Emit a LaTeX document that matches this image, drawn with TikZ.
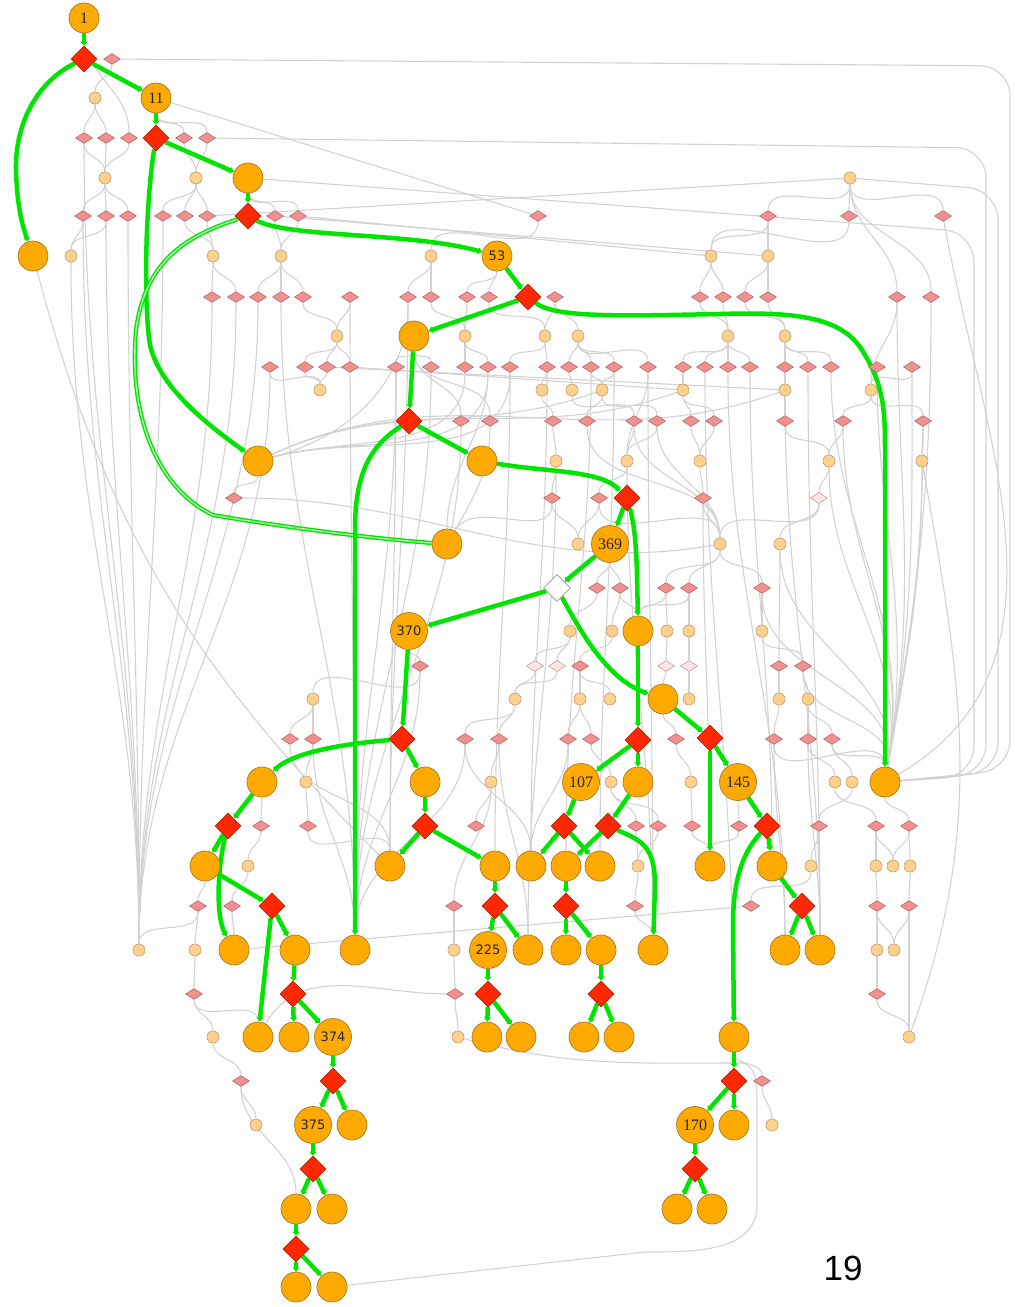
\documentclass[tikz,border=0pt]{standalone}
\usepackage{fontspec}
\setmainfont{Liberation Serif}
\newfontfamily\labsans{DejaVu Sans}
\newfontfamily\pagesans{Liberation Sans}
\usetikzlibrary{shapes.geometric,arrows.meta,backgrounds}
\pgfdeclarelayer{greyL}
\pgfdeclarelayer{greenL}
\pgfsetlayers{greyL,greenL,main}
\definecolor{nodeorange}{HTML}{FFAA00}
\definecolor{nodeedge}{HTML}{A8782A}
\definecolor{palefill}{HTML}{FFD08C}
\definecolor{paleedge}{HTML}{C49A6C}
\definecolor{firered}{HTML}{FF2800}
\definecolor{fireedge}{HTML}{B02A10}
\definecolor{rosefill}{HTML}{F29090}
\definecolor{roseedge}{HTML}{B46A6A}
\definecolor{blush}{HTML}{F9E6E6}
\definecolor{pathgreen}{HTML}{00E400}
\definecolor{wirecol}{HTML}{D2D2D2}
\tikzset{
  big/.style={circle, draw=nodeedge, fill=nodeorange, line width=0.7pt, minimum size=30pt, inner sep=0pt},
  bigl/.style={big, minimum size=37pt},
  serl/.style={font=\fontsize{16}{16}\selectfont, text=black!85},
  sanl/.style={font=\labsans\fontsize{13}{13}\selectfont, text=black!85},
  leaf/.style={circle, draw=paleedge, fill=palefill, line width=0.6pt, minimum size=12pt, inner sep=0pt},
  hub/.style={diamond, draw=fireedge, fill=firered, line width=0.6pt, minimum width=26pt, minimum height=26pt, inner sep=0pt},
  rose/.style={diamond, draw=roseedge, fill=rosefill, line width=0.6pt, minimum width=17pt, minimum height=11pt, inner sep=0pt},
  pale rose/.style={rose, fill=blush, draw=roseedge!70},
  blank/.style={diamond, draw=gray!80, fill=white, line width=0.7pt, minimum width=27pt, minimum height=27pt, inner sep=0pt},
  wire/.style={draw=wirecol, line width=1.1pt},
  trail/.style={draw=pathgreen, line width=4.5pt, -{Latex[length=4pt,width=8pt]}},
  trail2/.style={draw=pathgreen, line width=1.4pt, double=pathgreen!30, double distance=1.4pt},
}
\begin{document}
\begin{tikzpicture}[x=1pt, y=1pt]
  \useasboundingbox (0,0) rectangle (1015,-1307);
  % labelled nodes
  \node[big,serl] (v1) at (84,-18) {1};
  \node[big,serl] (v11) at (156,-98) {11};
  \node[big,sanl] (v53) at (497,-256) {53};
  \node[bigl,serl] (v369) at (610,-544) {369};
  \node[bigl,sanl] (v370) at (409,-631) {370};
  \node[bigl,serl] (v107) at (581,-782) {107};
  \node[bigl,serl] (v145) at (738,-782) {145};
  \node[bigl,sanl] (v225) at (488,-950) {225};
  \node[bigl,sanl] (v374) at (333,-1037) {374};
  \node[bigl,sanl] (v375) at (313,-1125) {375};
  \node[bigl,serl] (v170) at (695,-1125) {170};
  % plain big circles
  \foreach \x/\y in {33/256, 248/178, 414/336, 258/461, 482/461, 447/544, 638/631, 663/699,
      262/782, 425/782, 638/782, 710/866, 885/782, 355/950, 205/866, 234/950, 295/950,
      258/1037, 294/1037, 352/1125, 296/1209, 332/1209, 296/1287, 332/1287, 390/866,
      495/866, 528/950, 487/1037, 521/1037, 531/866, 600/866, 566/866, 653/950, 566/950,
      601/950, 584/1037, 619/1037, 772/866, 734/1037, 785/950, 820/950, 734/1125,
      677/1209, 712/1209}
    \node[big] (u\x-\y) at (\x,-\y) {};
  % red diamonds
  \foreach \x/\y in {84/59, 156/138, 248/216, 528/297, 409/421, 627/498, 638/740, 710/738,
      402/739, 228/826, 272/906, 293/994, 333/1081, 313/1169, 296/1249, 425/826, 495/906,
      488/994, 564/826, 608/826, 566/906, 601/994, 767/826, 802/906, 734/1081, 695/1169}
    \node[hub] (d\x-\y) at (\x,-\y) {};
  \node[blank] (w557-588) at (557,-588) {};
  % small diamonds
  \foreach \x/\y in {112/59, 84/138, 106/138, 129/138, 184/138, 207/138, 83/216, 106/216,
      128/216, 163/216, 185/216, 207/216, 275/216, 298/216, 538/216, 768/216, 849/216,
      943/216, 212/297, 236/297, 258/297, 281/297, 303/297, 350/297, 408/297, 431/297,
      467/297, 489/297, 555/297, 700/297, 723/297, 745/297, 768/297, 897/297, 931/297,
      270/367, 305/367, 327/367, 350/367, 396/367, 431/367, 465/367, 488/367, 510/367,
      547/367, 569/367, 591/367, 614/367, 648/367, 683/367, 705/367, 728/367, 750/367,
      785/367, 808/367, 831/367, 877/367, 912/367, 461/421, 490/421, 553/421, 587/421,
      634/421, 657/421, 691/421, 714/421, 785/421, 843/421, 923/421, 234/498, 552/498,
      599/498, 703/498, 597/588, 620/588, 666/588, 689/588, 762/588, 420/666, 580/666,
      779/666, 803/666, 290/739, 313/739, 465/739, 499/739, 568/739, 591/739, 676/739,
      774/739, 808/739, 832/739, 261/826, 308/826, 476/826, 636/826, 658/826, 692/826,
      739/826, 819/826, 876/826, 909/826, 198/906, 232/906, 454/906, 635/906, 751/906,
      877/906, 909/906, 194/994, 455/994, 877/994, 241/1081, 762/1081}
    \node[rose] (p\x-\y) at (\x,-\y) {};
  \foreach \x/\y in {819/498, 535/666, 557/666, 666/666, 689/666}
    \node[pale rose] (p\x-\y) at (\x,-\y) {};
  % small circles
  \foreach \x/\y in {95/98, 105/178, 196/178, 850/178, 71/256, 213/256, 281/256, 431/256,
      711/256, 768/256, 337/336, 465/336, 545/336, 578/336, 728/336, 785/336, 320/390,
      542/390, 572/390, 602/390, 683/390, 785/390, 871/390, 556/461, 627/461, 700/461,
      829/461, 922/461, 578/544, 720/544, 780/544, 570/631, 612/631, 667/631, 689/631,
      762/631, 313/699, 515/699, 580/699, 610/699, 689/699, 779/699, 808/699, 306/782,
      491/782, 611/782, 691/782, 835/782, 852/782, 248/866, 638/866, 811/866, 876/866,
      893/866, 910/866, 139/950, 195/950, 454/950, 877/950, 894/950, 213/1037, 458/1037,
      909/1037, 256/1125, 772/1125}
    \node[leaf] (o\x-\y) at (\x,-\y) {};
  \node[font=\pagesans\fontsize{35}{35}\selectfont] (pageno) at (843,-1268) {19};

  \begin{pgfonlayer}{greyL}
    % local links
    \foreach \a/\b in {v1/p129-138, p112-59/o95-98, o95-98/p84-138, o95-98/p106-138,
        p84-138/o105-178, p106-138/o105-178, p129-138/o105-178, v11/p184-138, v11/p207-138,
        p184-138/o196-178, p207-138/o196-178, o105-178/p83-216, o105-178/p106-216,
        o105-178/p128-216, o196-178/p163-216, o196-178/p185-216, o196-178/p207-216,
        u248-178/p275-216, u248-178/p298-216, p83-216/o71-256, p106-216/o71-256,
        p185-216/o213-256, p207-216/o213-256, p275-216/o281-256, p298-216/o281-256,
        o213-256/p212-297, o213-256/p236-297, o281-256/p258-297, o281-256/p281-297,
        o281-256/p303-297, o431-256/p408-297, o431-256/p431-297, v53/p467-297, v53/p489-297,
        o711-256/p700-297, o711-256/p723-297, o768-256/p745-297, o768-256/p768-297,
        p768-216/o768-256, p768-216/o711-256, p849-216/o711-256, o850-178/p768-216,
        o850-178/p849-216, o850-178/p943-216, p538-216/o431-256, o850-178/p897-297,
        o850-178/p931-297, p350-297/o337-336, p303-297/o337-336, p431-297/o465-336,
        p467-297/o465-336, p489-297/o545-336, p555-297/o545-336, p555-297/o578-336,
        p700-297/o728-336, p723-297/o728-336, p745-297/o785-336, p768-297/o785-336,
        u414-336/p396-367, u414-336/p431-367, u414-336/p461-421, u414-336/p490-421,
        o337-336/p305-367, o337-336/p327-367, o337-336/p350-367, o465-336/p465-367,
        o465-336/p488-367, o545-336/p510-367, o545-336/p547-367, o578-336/p569-367,
        o578-336/p591-367, o578-336/p614-367, o578-336/p648-367, o728-336/p683-367,
        o728-336/p705-367, o728-336/p728-367, o728-336/p750-367, o785-336/p785-367,
        o785-336/p808-367, o785-336/p831-367, p270-367/o320-390, p305-367/o320-390,
        p327-367/o320-390, p547-367/o542-390, p569-367/o572-390, p591-367/o602-390,
        p614-367/o602-390, p683-367/o683-390, p785-367/o785-390, p877-367/o871-390,
        p912-367/o871-390, p897-297/o871-390, o683-390/p691-421, o683-390/p714-421,
        o785-390/p785-421, o542-390/p553-421, o602-390/p587-421, o572-390/p634-421,
        o602-390/p657-421, o871-390/p843-421, o871-390/p923-421, p553-421/o556-461,
        p634-421/o627-461, p657-421/o627-461, p648-367/o627-461, p691-421/o700-461,
        p714-421/o700-461, p843-421/o829-461, p923-421/o922-461, p785-421/o829-461,
        o556-461/p552-498, o627-461/p599-498, o700-461/p703-498, o829-461/p819-498,
        u258-461/p234-498, p552-498/o578-544, p599-498/o578-544, p703-498/o720-544,
        p819-498/o780-544, p819-498/o720-544, v369/p597-588, v369/p620-588,
        o720-544/p666-588, o720-544/p689-588, o720-544/p762-588, p587-421/o720-544,
        p634-421/o720-544, p657-421/o720-544, p599-498/o720-544, p597-588/o570-631,
        p620-588/o612-631, p666-588/o667-631, p689-588/o689-631, p762-588/o762-631,
        p620-588/u638-631, p666-588/u638-631, p689-588/u638-631, o570-631/p535-666,
        o570-631/p557-666, o612-631/p580-666, o667-631/p666-666, o689-631/p689-666,
        o762-631/p803-666, o780-544/p779-666, v370/p420-666, p535-666/o515-699,
        p557-666/o515-699, p580-666/o580-699, p580-666/o610-699, p666-666/u663-699,
        p689-666/o689-699, p779-666/o779-699, p803-666/o808-699, p420-666/o313-699,
        o313-699/p290-739, o313-699/p313-739, o515-699/p465-739, o515-699/p499-739,
        o580-699/p568-739, o580-699/p591-739, u663-699/p676-739, o779-699/p774-739,
        o808-699/p808-739, o808-699/p832-739, p313-739/o306-782, p499-739/o491-782,
        p591-739/o611-782, p676-739/o691-782, p808-739/o835-782, p832-739/o852-782,
        p774-739/u885-782, p832-739/u885-782, o306-782/p308-826, u262-782/p261-826,
        o491-782/p476-826, o611-782/p636-826, o611-782/p658-826, o691-782/p692-826,
        v145/p739-826, o835-782/p876-826, o852-782/p819-826, u885-782/p909-826,
        p261-826/o248-866, p308-826/u390-866, p636-826/o638-866, p658-826/o638-866,
        p692-826/u710-866, p739-826/u710-866, p819-826/o811-866, p819-826/u820-950,
        p876-826/o876-866, p876-826/o893-866, p909-826/o893-866, p909-826/o910-866,
        u205-866/p198-906, o248-866/p232-906, o638-866/p635-906, o811-866/p751-906,
        o876-866/p877-906, o910-866/p909-906, p198-906/o195-950, p232-906/u234-950,
        p454-906/o454-950, p635-906/u653-950, p877-906/o877-950, p877-906/o894-950,
        p909-906/o894-950, p909-906/o909-1037, o195-950/p194-994, o454-950/p455-994,
        o877-950/p877-994, p194-994/o213-1037, p194-994/u258-1037, p455-994/o458-1037,
        p877-994/o909-1037, o213-1037/p241-1081, p241-1081/o256-1125, p241-1081/u296-1209,
        u734-1037/p762-1081, p762-1081/o772-1125, p290-739/u390-866, p465-739/u531-866,
        p568-739/u531-866, p499-739/u528-950, p774-739/u785-950, p808-739/u820-950,
        o491-782/p454-906, p198-906/o139-950,
        p408-297/u390-866, p396-367/u390-866, p510-367/u495-866, p488-367/u447-544,
        p547-367/u531-866, p614-367/u600-866, p648-367/u653-950, o627-461/u653-950,
        p703-498/u710-866, p750-367/u772-866, p728-367/u785-950, p808-367/u820-950,
        o785-390/u820-950, p591-367/u566-866, o556-461/u528-950, p705-367/u734-1037}
      \draw[wire] (\a) to[out=-90,in=90] (\b);
    % long bundles
    \foreach \a in {p84-138, p83-216, p106-216, p128-216, p163-216, o71-256, p212-297,
        p236-297, p258-297, p270-367}
      \draw[wire] (\a) to[out=-90,in=90] (o139-950);
    \foreach \a in {p281-297, p350-297, p396-367, p431-367, p461-421, p313-739, p465-739,
        p420-666}
      \draw[wire] (\a) to[out=-90,in=90] (u355-950);
    \foreach \a in {p465-367, p488-367, p510-367, p408-297}
      \draw[wire] (\a) to[out=-90,in=15] (u258-461);
    \foreach \a in {p490-421, p552-498}
      \draw[wire] (\a) to[out=-90,in=60] (u447-544);
    \foreach \a in {p843-421, o829-461, p923-421, o922-461, p831-367, p877-367, p912-367,
        p931-297, p897-297, o780-544, p762-588, p803-666}
      \draw[wire] (\a) to[out=-90,in=80] (u885-782);
    \foreach \b in {o602-390, o683-390, o785-390}
      \draw[wire] (u258-461) to[out=25,in=200] (\b);
    \draw[wire, rounded corners=30pt] (p112-59) -- (1010,-66) -- (1010,-770) -- (u885-782);
    \draw[wire, rounded corners=30pt] (o850-178) -- (998,-190) -- (998,-772) -- (u885-782);
    \draw[wire, rounded corners=30pt] (p207-138) -- (986,-148) -- (986,-774) -- (u885-782);
    \draw[wire, rounded corners=30pt] (u248-178) -- (974,-232) -- (974,-776) -- (u885-782);
    \draw[wire] (p943-216) to[out=-80,in=30] (u885-782);
    \draw[wire] (o922-461) to[out=-80,in=70] (o909-1037);
    \foreach \a/\b in {v11/p538-216, p207-216/o850-178, p298-216/o711-256,
        p275-216/o768-256, p350-367/o683-390, p327-367/o785-390, u234-950/p751-906}
      \draw[wire] (\a) -- (\b);
    \draw[wire] (p234-498) to[out=0,in=190] (o720-544);
    \draw[wire] (u33-256) to[out=-75,in=135] (u390-866);
    \draw[wire] (p455-994) to[out=180,in=60] (u258-1037);
    \draw[wire] (o458-1037) to[out=-15,in=180] (740,-1063) to[out=0,in=90] (757,-1100)
      -- (757,-1205) to[out=-90,in=0] (645,-1252) -- (u332-1287);
  \end{pgfonlayer}

  \begin{pgfonlayer}{greenL}
    \foreach \a/\b in {v1/d84-59, d84-59/v11, v11/d156-138, d156-138/u248-178,
        u248-178/d248-216, v53/d528-297, d528-297/u414-336, u414-336/d409-421,
        d409-421/u482-461, d627-498/v369, v369/w557-588, w557-588/v370, u638-631/d638-740,
        u663-699/d710-738, v370/d402-739, d402-739/u425-782, d638-740/v107,
        d638-740/u638-782, d710-738/v145, d710-738/u710-866, u262-782/d228-826,
        d228-826/u205-866, u205-866/d272-906, d272-906/u295-950, d272-906/u258-1037,
        u295-950/d293-994, d293-994/u294-1037, d293-994/v374, v374/d333-1081,
        d333-1081/v375, d333-1081/u352-1125, v375/d313-1169, d313-1169/u296-1209,
        d313-1169/u332-1209, u296-1209/d296-1249, d296-1249/u296-1287,
        d296-1249/u332-1287, u425-782/d425-826, d425-826/u390-866, d425-826/u495-866,
        u495-866/d495-906, d495-906/v225, d495-906/u528-950, v225/d488-994,
        d488-994/u487-1037, d488-994/u521-1037, v107/d564-826, d564-826/u531-866,
        d564-826/u600-866, u638-782/d608-826, d608-826/u566-866, u566-866/d566-906,
        d566-906/u566-950, d566-906/u601-950, u601-950/d601-994, d601-994/u584-1037,
        d601-994/u619-1037, v145/d767-826, d767-826/u772-866, u772-866/d802-906,
        d802-906/u785-950, d802-906/u820-950, u734-1037/d734-1081, d734-1081/v170,
        d734-1081/u734-1125, v170/d695-1169, d695-1169/u677-1209, d695-1169/u712-1209}
      \draw[trail] (\a) -- (\b);
    \draw[trail] (d84-59) .. controls (40,-80) and (15,-120) .. (16,-170)
      .. controls (17,-210) and (24,-230) .. (u33-256);
    \draw[trail] (d156-138) .. controls (146,-200) and (143,-300) .. (150,-345)
      .. controls (160,-390) and (215,-430) .. (u258-461);
    \draw[trail2] (d248-216) .. controls (185,-236) and (145,-262) .. (136,-330)
      .. controls (128,-420) and (160,-490) .. (213,-515)
      .. controls (300,-530) and (390,-540) .. (u447-544);
    \draw[trail] (d248-216) .. controls (290,-238) and (410,-232) .. (v53);
    \draw[trail] (d528-297) .. controls (555,-318) and (620,-316) .. (720,-314)
      .. controls (790,-312) and (840,-315) .. (862,-350)
      .. controls (884,-385) and (885,-410) .. (885,-450) -- (u885-782);
    \draw[trail] (d409-421) .. controls (372,-445) and (355,-470) .. (355,-530) -- (u355-950);
    \draw[trail] (u482-461) .. controls (545,-472) and (600,-470) .. (d627-498);
    \draw[trail] (d627-498) .. controls (636,-530) and (637,-560) .. (u638-631);
    \draw[trail] (w557-588) .. controls (585,-640) and (610,-680) .. (u663-699);
    \draw[trail] (d402-739) .. controls (330,-745) and (290,-755) .. (u262-782);
    \draw[trail] (d228-826) .. controls (218,-865) and (215,-915) .. (u234-950);
    \draw[trail] (d608-826) .. controls (640,-840) and (655,-845) .. (655,-885) -- (u653-950);
    \draw[trail] (d767-826) .. controls (745,-850) and (733,-875) .. (733,-925) -- (u734-1037);
  \end{pgfonlayer}
\end{tikzpicture}
\end{document}
